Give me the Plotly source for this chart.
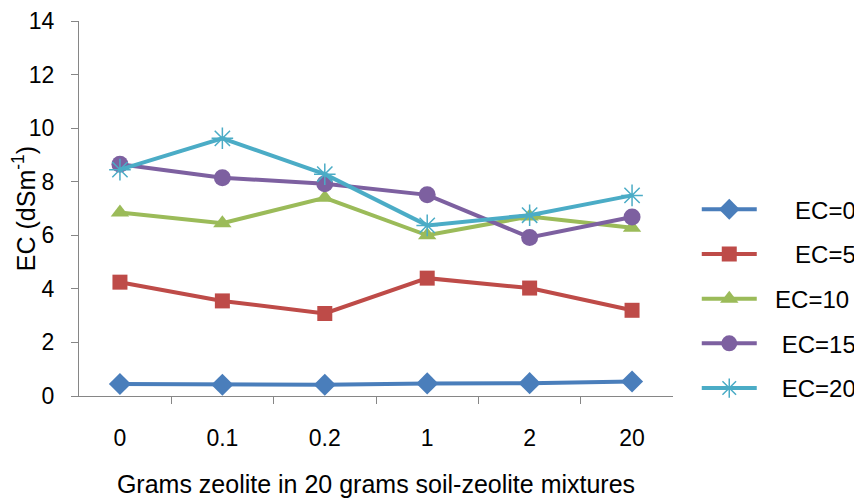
import plotly.graph_objects as go

categories = ["0", "0.1", "0.2", "1", "2", "20"]
ec0 = [0.45, 0.42, 0.42, 0.47, 0.48, 0.54]
ec5 = [4.25, 3.55, 3.08, 4.40, 4.03, 3.20]
ec10 = [6.85, 6.45, 7.40, 6.00, 6.70, 6.28]
ec15 = [8.65, 8.15, 7.92, 7.51, 5.92, 6.68]
ec20 = [8.45, 9.62, 8.28, 6.37, 6.75, 7.49]
series_names = ["EC=0", "EC=5", "EC=10", "EC=15", "EC=20"]
legend_pad = [5, 5, 2, 3, 3]
tick_vals_y = [0, 2, 4, 6, 8, 10, 12, 14]

styles = [
    ("#4A7EBB", "diamond", 17),
    ("#BE4B48", "square", 15),
    ("#9BBB59", "triangle-up", 16),
    ("#7D60A0", "circle", 17),
    ("#4BACC6", "asterisk-open", 18),
]

fig = go.Figure()
for i, (name, vals) in enumerate(zip(series_names, [ec0, ec5, ec10, ec15, ec20])):
    color, symbol, size = styles[i]
    marker = dict(symbol=symbol, size=size, color=color)
    if symbol == "asterisk-open":
        marker["line"] = dict(color=color, width=1.5)
    fig.add_trace(go.Scatter(
        x=categories, y=vals, name="\u00a0" * legend_pad[i] + name,
        mode="lines+markers",
        line=dict(color=color, width=4), marker=marker,
        legendgroup=name,
    ))

# page body has an 8px margin, so the figure is sized/offset to compensate
fig.update_layout(
    width=854, height=491,
    paper_bgcolor="white", plot_bgcolor="white",
    margin=dict(l=71, r=189, t=13, b=103, autoexpand=False),
    font=dict(family="Liberation Sans, Arial, sans-serif", color="black", size=23),
    showlegend=True,
    legend=dict(x=1.04, y=0.557, xanchor="left", yanchor="top",
                font=dict(size=24), tracegroupgap=10.5, itemwidth=55,
                bgcolor="rgba(0,0,0,0)"),
    xaxis=dict(
        type="category", showline=True, linecolor="#868686", linewidth=1,
        ticks="outside", tickson="boundaries", ticklen=7, tickcolor="#868686",
        showgrid=False, zeroline=False, ticklabelstandoff=21, automargin=False,
        title=dict(text="Grams zeolite in 20 grams soil-zeolite mixtures",
                   font=dict(size=25), standoff=25),
    ),
    yaxis=dict(
        range=[0, 14], tickvals=tick_vals_y, showline=True, linecolor="#868686",
        linewidth=1, ticks="outside", ticklen=7, tickcolor="#868686",
        showgrid=False, zeroline=False, ticklabelstandoff=12, automargin=False,
        ticklabeloverflow="allow",
        title=dict(text="EC (dSm<sup>-1</sup>)", font=dict(size=25), standoff=8),
    ),
)

fig.write_html("out.html")
